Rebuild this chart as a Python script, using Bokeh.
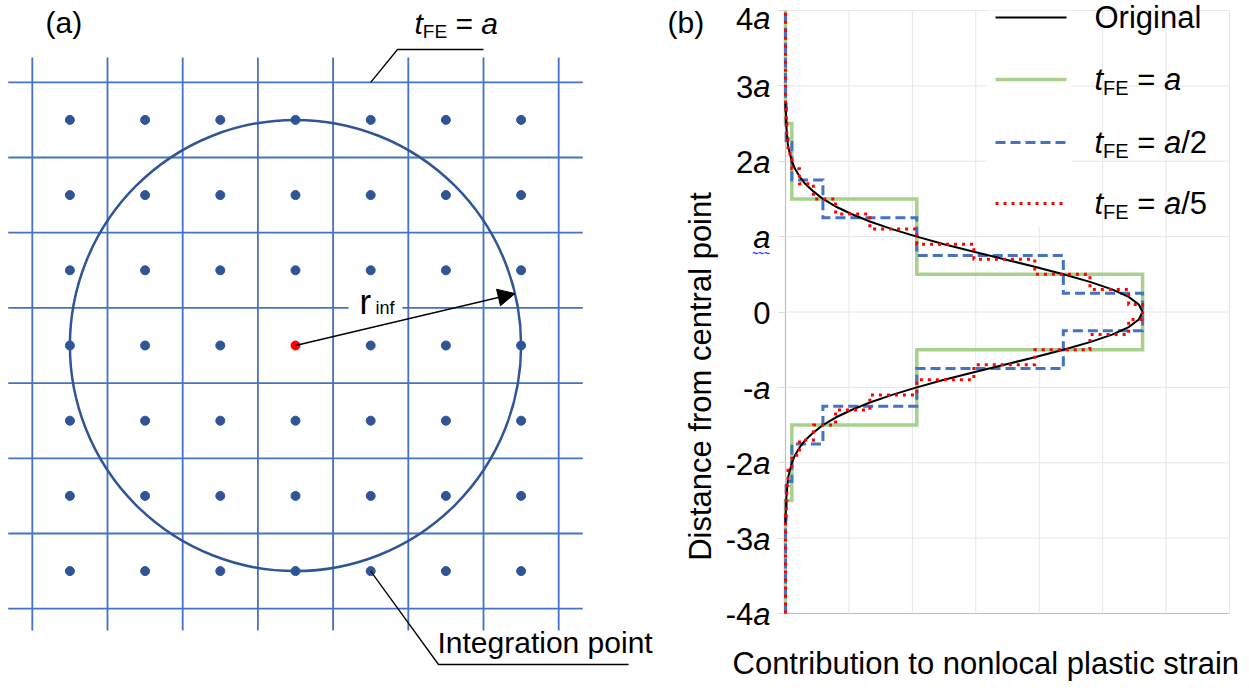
import math
from bokeh.plotting import figure
from bokeh.models import Range1d, Label, Arrow, NormalHead, FixedTicker, CustomJSTickFormatter, LinearAxis
from bokeh.layouts import row
from bokeh.embed import file_html
from bokeh.resources import INLINE

FONT = "Liberation Sans"

# ---------------- DATA : panel (b) ----------------
# distance from central point (units of a) and contribution
orig_dist = [-2.8, -2.7, -2.6, -2.5, -2.4, -2.3, -2.2, -2.1, -2.0, -1.9, -1.8, -1.7, -1.6, -1.5,
             -1.4, -1.3, -1.2, -1.1, -1.0, -0.9, -0.8, -0.7, -0.6, -0.5, -0.4, -0.3, -0.2, -0.1,
             0.0, 0.1, 0.2, 0.3, 0.4, 0.5, 0.6, 0.7, 0.8, 0.9, 1.0, 1.1, 1.2, 1.3, 1.4, 1.5,
             1.6, 1.7, 1.8, 1.9, 2.0, 2.1, 2.2, 2.3, 2.4, 2.5, 2.6, 2.7, 2.8]
orig_val = [0.00, 0.00, 0.01, 0.01, 0.02, 0.03, 0.04, 0.07, 0.10, 0.15, 0.22, 0.31, 0.44, 0.59,
            0.79, 1.04, 1.33, 1.68, 2.07, 2.50, 2.97, 3.45, 3.93, 4.38, 4.80, 5.15, 5.41, 5.57,
            5.63, 5.57, 5.41, 5.15, 4.80, 4.38, 3.93, 3.45, 2.97, 2.50, 2.07, 1.68, 1.33, 1.04,
            0.79, 0.59, 0.44, 0.31, 0.22, 0.15, 0.10, 0.07, 0.04, 0.03, 0.02, 0.01, 0.01, 0.00, 0.00]

# element-centre positions and element values, t_FE = a
fe1_center = [-4, -3, -2, -1, 0, 1, 2, 3, 4]
fe1_val = [0.00, 0.00, 0.10, 2.07, 5.63, 2.07, 0.10, 0.00, 0.00]

# t_FE = a/2
fe2_center = [-4.0, -3.5, -3.0, -2.5, -2.0, -1.5, -1.0, -0.5, 0.0, 0.5, 1.0, 1.5, 2.0, 2.5, 3.0, 3.5, 4.0]
fe2_val = [0.00, 0.00, 0.00, 0.01, 0.10, 0.59, 2.07, 4.38, 5.63, 4.38, 2.07, 0.59, 0.10, 0.01, 0.00, 0.00, 0.00]

# t_FE = a/5
fe5_center = [-4.0, -3.8, -3.6, -3.4, -3.2, -3.0, -2.8, -2.6, -2.4, -2.2, -2.0, -1.8, -1.6, -1.4,
              -1.2, -1.0, -0.8, -0.6, -0.4, -0.2, 0.0, 0.2, 0.4, 0.6, 0.8, 1.0, 1.2, 1.4, 1.6,
              1.8, 2.0, 2.2, 2.4, 2.6, 2.8, 3.0, 3.2, 3.4, 3.6, 3.8, 4.0]
fe5_val = [0.00, 0.00, 0.00, 0.00, 0.00, 0.00, 0.00, 0.01, 0.02, 0.04, 0.10, 0.22, 0.44, 0.79,
           1.33, 2.07, 2.97, 3.93, 4.80, 5.41, 5.63, 5.41, 4.80, 3.93, 2.97, 2.07, 1.33, 0.79, 0.44,
           0.22, 0.10, 0.04, 0.02, 0.01, 0.00, 0.00, 0.00, 0.00, 0.00, 0.00, 0.00]

ytick_vals = [-4, -3, -2, -1, 0, 1, 2, 3, 4]
ytick_labels = ["-4a", "-3a", "-2a", "-a", "0", "a", "2a", "3a", "4a"]
xgrid_vals = [0, 1, 2, 3, 4, 5, 6, 7]

# ---------------- DATA : panel (a) schematic ----------------
ip_index = [-3, -2, -1, 0, 1, 2, 3]                       # integration points (units of a)
mesh_lines = [-3.5, -2.5, -1.5, -0.5, 0.5, 1.5, 2.5, 3.5]  # element boundaries (t_FE = a)
r_inf = 3.0
arrow_angle_deg = 13.3

# ---------------- helpers ----------------
AW = {' ': 278, '(': 333, ')': 333, '-': 333, '/': 278, '=': 584, 'a': 556, 'b': 556, 'c': 500,
      'd': 556, 'e': 556, 'f': 278, 'g': 556, 'h': 556, 'i': 222, 'l': 222, 'm': 833, 'n': 556,
      'o': 556, 'p': 556, 'r': 333, 's': 500, 't': 278, 'u': 556, 'E': 667, 'F': 611, 'I': 278,
      'O': 778, 'C': 722, 'D': 722, '~': 584}
BASE_FIX = 0.34   # empirical shift (fraction of font size) so the glyph baseline lands on base_px


def tw(s, size):
    return sum(AW.get(ch, 556) for ch in s) * size / 1000.0


def put_rich(fig, cx, cy, x_px, base_px, segs, color="black"):
    x = x_px
    for txt, size, style, dy in segs:
        lead = len(txt) - len(txt.lstrip(' '))
        x += tw(' ' * lead, size)
        core = txt.strip(' ')
        if core:
            fig.add_layout(Label(x=cx(x), y=cy(base_px + dy - BASE_FIX * size), text=core, text_font=FONT,
                                 text_font_size=f"{size}px", text_font_style=style,
                                 text_align="left", text_baseline="alphabetic", text_color=color))
        x += tw(core, size)
        trail = len(txt) - len(txt.rstrip(' '))
        x += tw(' ' * trail, size)
    return x


H = 690
# ================= PANEL (a) =================
A_CX, A_CY, A_S = 295.0, 345.0, 75.2
A_W = 660


def ax(px):
    return (px - A_CX) / A_S


def ay(py):
    return (A_CY - py) / A_S


pa = figure(width=A_W, height=H, x_range=Range1d(ax(0), ax(A_W)), y_range=Range1d(ay(H), ay(0)),
            output_backend="svg", toolbar_location=None, x_axis_type=None, y_axis_type=None,
            min_border=0)
pa.outline_line_color = None

MESH = "#4472C4"
CIRC = "#2F5597"
n = len(mesh_lines)
pa.segment(x0=[-3.82] * n, y0=mesh_lines, x1=[3.82] * n, y1=mesh_lines, line_color=MESH, line_width=1.8)
pa.segment(x0=mesh_lines, y0=[-3.79] * n, x1=mesh_lines, y1=[3.83] * n, line_color=MESH, line_width=1.8)

# white box behind r_inf label
pa.quad(left=ax(348), right=ax(402), bottom=ay(321), top=ay(293), fill_color="white", line_color=None)

pa.circle(x=[0], y=[0], radius=r_inf, fill_color=None, line_color=CIRC, line_width=2.5)

dx, dy = [], []
for i in ip_index:
    for j in ip_index:
        if not (i == 0 and j == 0):
            dx.append(i)
            dy.append(j)
pa.scatter(dx, dy, size=9, color=CIRC)
pa.scatter([0], [0], size=9, color="#FF0000")

ang = math.radians(arrow_angle_deg)
pa.add_layout(Arrow(end=NormalHead(size=17, fill_color="black", line_color="black", line_width=1),
                    x_start=0, y_start=0, x_end=r_inf * math.cos(ang), y_end=r_inf * math.sin(ang),
                    line_color="black", line_width=1.5))

# leader lines
pa.line([1.0, ax(397), ax(483)], [3.5, ay(49), ay(49)], line_color="black", line_width=1.3)
pa.line([1.0, ax(438), ax(628)], [-3.0, ay(664), ay(664)], line_color="black", line_width=1.3)

put_rich(pa, ax, ay, 45, 32, [("(a)", 30, "normal", 0)])
put_rich(pa, ax, ay, 414, 33, [("t", 30, "italic", 0), ("FE", 19, "normal", 4),
                               (" = ", 30, "normal", 0), ("a", 30, "italic", 0)])
put_rich(pa, ax, ay, 359, 313, [("r", 35, "normal", 0)])
put_rich(pa, ax, ay, 375, 314, [("inf", 18, "normal", 0)])
put_rich(pa, ax, ay, 437, 652, [("Integration point", 30, "normal", 0)])

# ================= PANEL (b) =================
B_X0 = A_W
B_W = 1249 - B_X0
B_L, B_R, B_T, B_B = 785.0, 1229.0, 10.0, 613.0


def bx(px):
    return (px - B_L) / (B_R - B_L) * 7.0


def by(py):
    return 4.0 - (py - B_T) / (B_B - B_T) * 8.0


pb = figure(width=B_W, height=H, x_range=Range1d(bx(B_X0), bx(1249)), y_range=Range1d(by(H), by(0)),
            output_backend="svg", toolbar_location=None, x_axis_type=None, y_axis_type=None,
            min_border=0)
pb.outline_line_color = None

empty = CustomJSTickFormatter(code="return ''")
yax = LinearAxis(fixed_location=0, bounds=(-4, 4), ticker=FixedTicker(ticks=ytick_vals), formatter=empty,
                 major_tick_out=7, major_tick_in=0, minor_tick_line_color=None,
                 major_tick_line_color="#D9D9D9", axis_line_color="#BFBFBF", axis_line_width=1.2,
                 major_label_text_font_size="1px", level="underlay")
xax = LinearAxis(fixed_location=-4, bounds=(0, 7), ticker=FixedTicker(ticks=xgrid_vals), formatter=empty,
                 major_tick_line_color=None, minor_tick_line_color=None, axis_line_color="#BFBFBF",
                 axis_line_width=1.2, major_label_text_font_size="1px", level="underlay")
pb.add_layout(yax, "left")
pb.add_layout(xax, "below")

# grid lines at the tick positions, limited to the plot area
GRID = "#E6E6E6"
pb.segment(x0=xgrid_vals[1:], y0=[-4] * (len(xgrid_vals) - 1), x1=xgrid_vals[1:], y1=[4] * (len(xgrid_vals) - 1),
           line_color=GRID, line_width=1)
pb.segment(x0=[0] * (len(ytick_vals) - 1), y0=ytick_vals[1:], x1=[7] * (len(ytick_vals) - 1), y1=ytick_vals[1:],
           line_color=GRID, line_width=1)


def step_path(centers, values):
    w = centers[1] - centers[0]
    xs, ys = [], []
    for c, v in zip(centers, values):
        xs += [v, v]
        ys += [max(c - w / 2, -4), min(c + w / 2, 4)]
    return xs, ys


GREEN, BLUE, RED = "#A9D18E", "#4472C4", "#FF0000"
STY = {
    "orig": dict(line_color="black", line_width=2),
    "fe1": dict(line_color=GREEN, line_width=3.5),
    "fe2": dict(line_color=BLUE, line_width=3, line_dash="10 5"),
    "fe5": dict(line_color=RED, line_width=3, line_dash="3 5"),
}

# legend background (hides grid behind the keys)
pb.quad(left=bx(986), right=bx(1071), top=4, bottom=by(226), fill_color="white", line_color=None)

gx, gy = step_path(fe1_center, fe1_val)
pb.line(gx, gy, line_join="miter", **STY["fe1"])
bxs, bys = step_path(fe2_center, fe2_val)
pb.line(bxs, bys, line_join="miter", **STY["fe2"])
pb.line(orig_val, orig_dist, **STY["orig"])
rx, ry = step_path(fe5_center, fe5_val)
pb.line(rx, ry, line_join="miter", **STY["fe5"])

legend_y = [17, 79, 142, 203]
legend_keys = ["orig", "fe1", "fe2", "fe5"]
legend_texts = [
    [("Original", 31, "normal", 0)],
    [("t", 31, "italic", 0), ("FE", 20, "normal", 4), (" = ", 31, "normal", 0), ("a", 31, "italic", 0)],
    [("t", 31, "italic", 0), ("FE", 20, "normal", 4), (" = ", 31, "normal", 0), ("a", 31, "italic", 0),
     ("/2", 31, "normal", 0)],
    [("t", 31, "italic", 0), ("FE", 20, "normal", 4), (" = ", 31, "normal", 0), ("a", 31, "italic", 0),
     ("/5", 31, "normal", 0)],
]
for ly, key, segs in zip(legend_y, legend_keys, legend_texts):
    pb.line([bx(995), bx(1066)], [by(ly), by(ly)], **STY[key])
    put_rich(pb, bx, by, 1094, ly + 11, segs)

# y tick labels (number upright, a italic)
for v, lab in zip(ytick_vals, ytick_labels):
    py = B_T + (4 - v) / 8.0 * (B_B - B_T)
    base = max(py + 11.5, 29.0)   # keep the top label fully inside the page
    right = 770.0
    if lab.endswith("a"):
        pre = lab[:-1]
        wa = tw("a", 31)
        put_rich(pb, bx, by, right - wa, base, [("a", 31, "italic", 0)])
        if pre:
            put_rich(pb, bx, by, right - wa - tw(pre, 31), base, [(pre, 31, "normal", 0)])
        if lab == "a":
            put_rich(pb, bx, by, right - wa - 1, base + 9, [("~~~", 10, "bold", 0)], color="#2020FF")
    else:
        put_rich(pb, bx, by, right - tw(lab, 31), base, [(lab, 31, "normal", 0)])

put_rich(pb, bx, by, 667, 32, [("(b)", 30, "normal", 0)])
put_rich(pb, bx, by, 732, 674, [("Contribution to nonlocal plastic strain", 31, "normal", 0)])
pb.add_layout(Label(x=bx(711 - BASE_FIX * 31), y=by(376), text="Distance from central point", angle=math.pi / 2,
                    text_font=FONT, text_font_size="31px", text_align="center",
                    text_baseline="alphabetic", text_color="black"))

layout = row(pa, pb)
open("out.html", "w").write(file_html(layout, INLINE))
